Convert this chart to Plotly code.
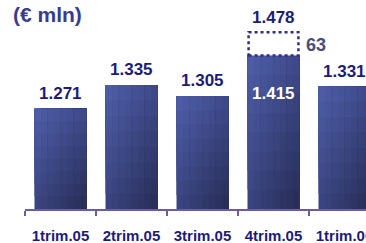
import plotly.graph_objects as go

categories = ["1trim.05", "2trim.05", "3trim.05", "4trim.05", "1trim.06"]
value_labels = ["1.271", "1.335", "1.305", "1.415", "1.331"]
values = [1271, 1335, 1305, 1415, 1331]
extra_values = [0, 0, 0, 63, 0]
extra_label = "63"
total_label = "1.478"
base_value = 1000

NAVY = "#1b1b7e"
FONT = "Liberation Sans, Arial, sans-serif"

TL = (79, 95, 168)
TR = (62, 74, 140)
BL = (58, 68, 128)
BR = (38, 44, 82)


def mix(u, v):
    c = []
    for k in range(3):
        top = TL[k] * (1 - u) + TR[k] * u
        bot = BL[k] * (1 - u) + BR[k] * u
        c.append(int(round(bot * (1 - v) + top * v)))
    return "rgb(%d,%d,%d)" % tuple(c)


fig = go.Figure()
bar_w = 0.732
NS = 8   # strips across
NV = 8   # segments up
sw = bar_w / NS
for s in range(NS):
    u = (s + 0.5) / NS
    for j in range(NV):
        v = (j + 0.5) / NV
        bases = [base_value + (val - base_value) * j / NV for val in values]
        heights = [val - b for val, b in zip(values, bases)]
        col = mix(u, v)
        fig.add_trace(go.Bar(
            x=categories, y=heights, base=bases,
            width=bar_w - s * sw, offset=-bar_w / 2 + s * sw,
            marker=dict(color=col, line=dict(width=0), opacity=1),
            opacity=1, hoverinfo="skip", showlegend=False,
        ))

# white box for the increment
fig.add_trace(go.Bar(
    x=categories, y=extra_values, base=values,
    width=bar_w, offset=-bar_w / 2,
    marker=dict(color="white", line=dict(width=0), opacity=1),
    opacity=1, hoverinfo="skip", showlegend=False,
))

fig.update_layout(
    barmode="overlay",
    width=366, height=243,
    margin=dict(l=25, r=0, t=0, b=34, autoexpand=False),
    paper_bgcolor="white", plot_bgcolor="white",
    xaxis=dict(
        type="category", categoryorder="array", categoryarray=categories,
        range=[-0.5, -0.5 + 341 / 71], tickmode="array",
        tickvals=categories, ticktext=["<b>%s</b>" % c for c in categories],
        tickson="boundaries", ticks="outside", ticklen=5, tickcolor="#6f5aa8",
        tickwidth=1.5,
        showline=True, linecolor="#6f5aa8", linewidth=1.5, showgrid=False,
        zeroline=False, tickangle=0, automargin=False,
        tickfont=dict(family=FONT, size=15, color=NAVY), ticklabelstandoff=12,
    ),
    yaxis=dict(range=[base_value, base_value + 209 / 0.37], visible=False,
               automargin=False),
    showlegend=False,
)

for i, ev in enumerate(extra_values):
    cat = categories[i]
    if ev:
        y0, y1 = values[i], values[i] + ev
        fig.add_shape(type="rect", x0=i - bar_w / 2 + 0.015, x1=i + bar_w / 2 - 0.015,
                      y0=y0, y1=y1,
                      line=dict(color="#2e2e8a", width=2.5, dash="dot"),
                      fillcolor="rgba(0,0,0,0)", opacity=1)
        fig.add_annotation(x=cat, y=y0 + ev / 2, text="<b>%s</b>" % extra_label,
                           showarrow=False, xanchor="left", xshift=30, yshift=-1,
                           font=dict(family=FONT, size=18, color="#474d7e"))
        fig.add_annotation(x=cat, y=y1, text="<b>%s</b>" % total_label,
                           showarrow=False, yanchor="bottom", yshift=3,
                           font=dict(family=FONT, size=17, color=NAVY))
        fig.add_annotation(x=cat, y=values[i], text="<b>%s</b>" % value_labels[i],
                           showarrow=False, yanchor="top", yshift=-27,
                           font=dict(family=FONT, size=17, color="white"))
    else:
        fig.add_annotation(x=cat, y=values[i], text="<b>%s</b>" % value_labels[i],
                           showarrow=False, yanchor="bottom", yshift=4,
                           font=dict(family=FONT, size=17, color=NAVY))

fig.add_annotation(xref="paper", yref="paper", x=-25 / 341, y=1, xanchor="left",
                   yanchor="top", xshift=11, yshift=-1, text="<b>(€ mln)</b>",
                   showarrow=False,
                   font=dict(family=FONT, size=21, color="#3a3a92"))

fig.write_html("out.html", config={"displayModeBar": False, "staticPlot": True},
               post_script="document.body.style.margin='0';"
                           "document.body.style.overflow='hidden';")
